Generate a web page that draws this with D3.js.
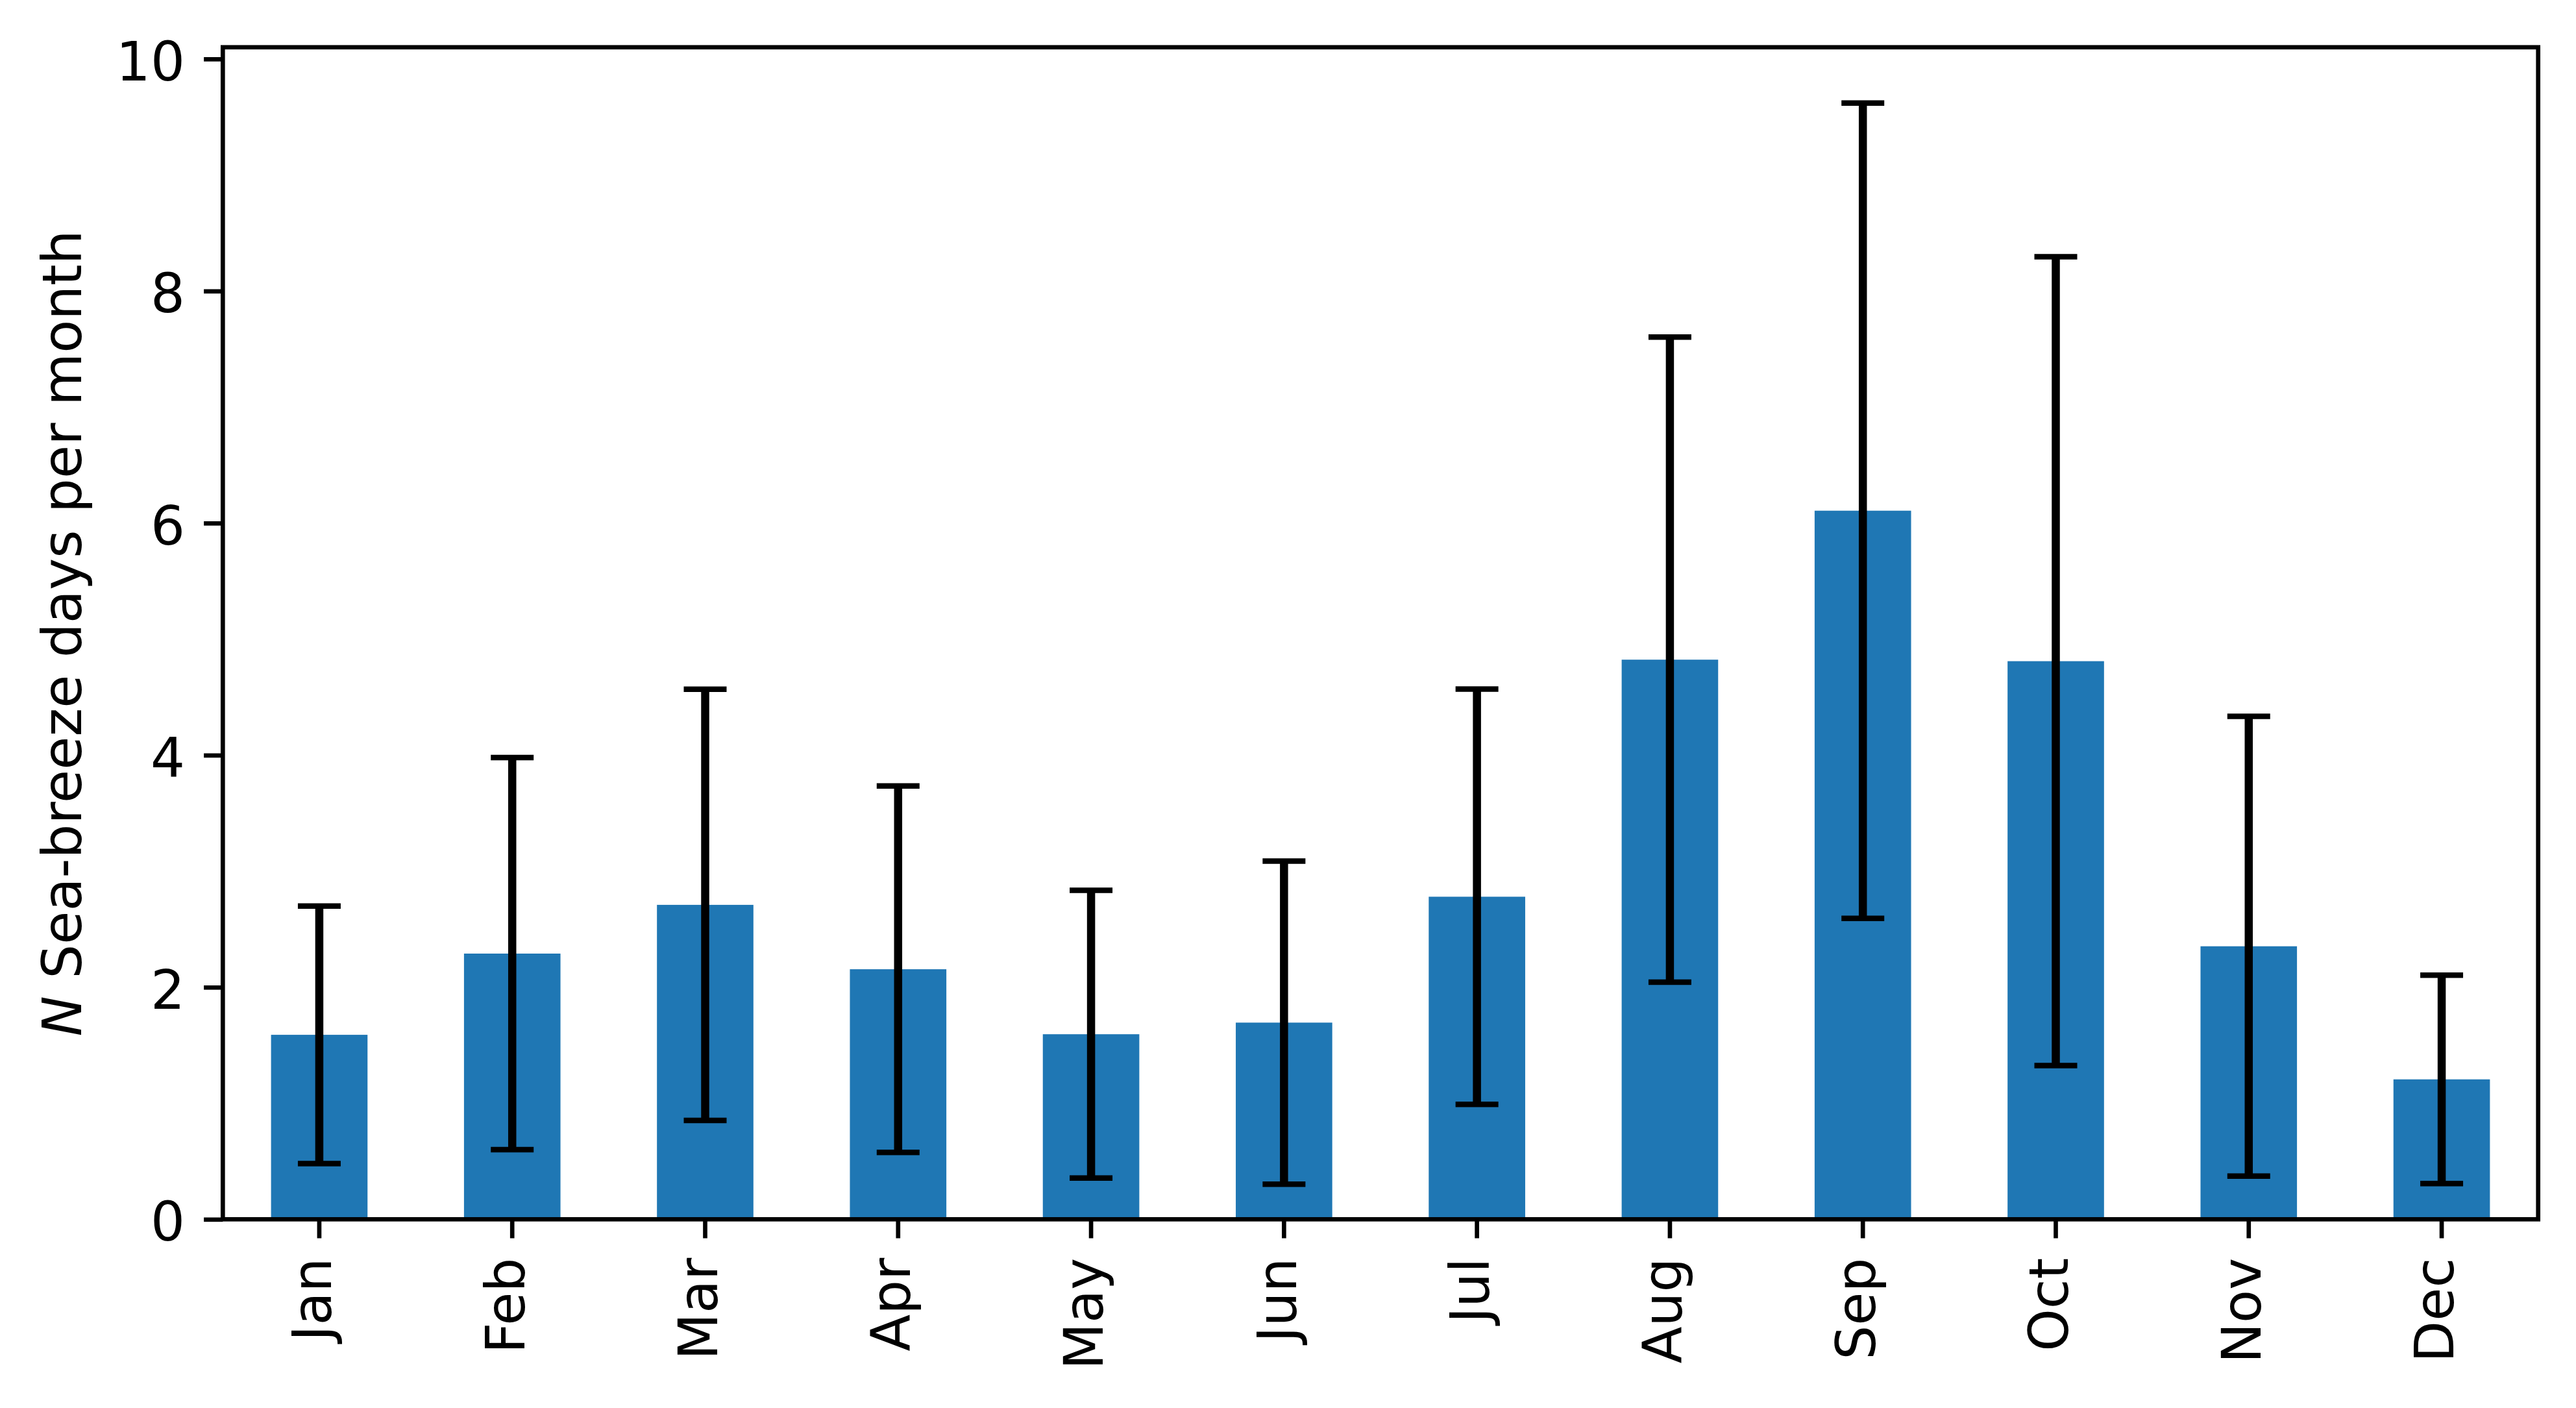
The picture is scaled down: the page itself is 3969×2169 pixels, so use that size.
<!DOCTYPE html>
<html><head><meta charset="utf-8">
<script src="https://cdn.jsdelivr.net/npm/d3@7"></script>
<style>
body{margin:0;background:#fff;}
text{font-family:"DejaVu Sans",sans-serif;}
</style>
</head><body>
<svg id="c" width="3969" height="2169"></svg>
<script>
// ---- data ----
const months = ["Jan","Feb","Mar","Apr","May","Jun","Jul","Aug","Sep","Oct","Nov","Dec"];
const meanDays = [1.59, 2.29, 2.71, 2.155, 1.595, 1.695, 2.78, 4.823, 6.107, 4.81, 2.353, 1.206];
const stdDays  = [1.11, 1.69, 1.858, 1.579, 1.24, 1.392, 1.79, 2.78, 3.513, 3.485, 1.981, 0.898];
const yTickValues = [0, 2, 4, 6, 8, 10];
const yLabelItalic = "N";
const yLabelRest = " Sea-breeze days per month";

(function () {
// ---- layout ----
const W = 3969, H = 2169;
const pL = 343.3, pR = 3910.7, pT = 72.8, pB = 1878.3;
const fs = 83.33;           // 10pt @ 600dpi
const lw = 6.67;            // 0.8pt
const tickLen = 29.2, tickPad = 29.2;
const barColor = "#1f77b4";

const svg = d3.select("#c");
svg.append("rect").attr("width", W).attr("height", H).attr("fill", "#fff");

const x = d3.scaleBand().domain(months).range([pL, pR]).paddingInner(0.5).paddingOuter(0.25);
const yMax = d3.max(meanDays.map((m, i) => m + stdDays[i]));
const y = d3.scaleLinear().domain([0, yMax * 1.05]).range([pB, pT]);

// bars
svg.append("g").selectAll("rect").data(months).join("rect")
  .attr("x", d => x(d))
  .attr("width", x.bandwidth())
  .attr("y", (d, i) => y(meanDays[i]))
  .attr("height", (d, i) => y(0) - y(meanDays[i]))
  .attr("fill", barColor);

// error bars
const eg = svg.append("g").attr("stroke", "#000");
const cx = d => x(d) + x.bandwidth() / 2;
eg.selectAll("line.v").data(months).join("line").attr("class", "v")
  .attr("x1", cx).attr("x2", cx)
  .attr("y1", (d, i) => y(meanDays[i] + stdDays[i]))
  .attr("y2", (d, i) => y(meanDays[i] - stdDays[i]))
  .attr("stroke-width", 12.5);
const capHalf = 33;
[1, -1].forEach(sgn => {
  const cls = sgn > 0 ? "capu" : "capd";
  eg.selectAll("line." + cls).data(months).join("line")
    .attr("class", cls)
    .attr("x1", d => cx(d) - capHalf).attr("x2", d => cx(d) + capHalf)
    .attr("y1", (d, i) => y(meanDays[i] + sgn * stdDays[i]))
    .attr("y2", (d, i) => y(meanDays[i] + sgn * stdDays[i]))
    .attr("stroke-width", 8.5);
});

// x axis
const xAxis = svg.append("g").attr("transform", `translate(0,${pB})`)
  .call(d3.axisBottom(x).tickSize(tickLen).tickPadding(tickPad));
xAxis.select(".domain").remove();
xAxis.selectAll(".tick line").attr("stroke", "#000").attr("stroke-width", lw);
xAxis.selectAll(".tick text")
  .attr("x", 0).attr("y", 0).attr("dy", "0.22em")
  .attr("transform", `translate(0,${tickLen + tickPad + 1}) rotate(-90)`)
  .attr("text-anchor", "end")
  .attr("font-size", fs).attr("font-family", "DejaVu Sans").attr("fill", "#000");

// y axis
const yAxis = svg.append("g").attr("transform", `translate(${pL},0)`)
  .call(d3.axisLeft(y).tickValues(yTickValues).tickFormat(d3.format("d")).tickSize(tickLen).tickPadding(tickPad));
yAxis.select(".domain").remove();
yAxis.selectAll(".tick line").attr("stroke", "#000").attr("stroke-width", lw);
yAxis.selectAll(".tick text")
  .attr("dy", "0.39em")
  .attr("font-size", fs).attr("font-family", "DejaVu Sans").attr("fill", "#000");

// frame
svg.append("rect")
  .attr("x", pL).attr("y", pT)
  .attr("width", pR - pL).attr("height", pB - pT)
  .attr("fill", "none").attr("stroke", "#000").attr("stroke-width", lw)
  .attr("stroke-linejoin", "miter");

// y label
const yl = svg.append("text")
  .attr("transform", `translate(125,${(pT + pB) / 2}) rotate(-90)`)
  .attr("text-anchor", "middle")
  .attr("font-size", fs).attr("font-family", "DejaVu Sans").attr("fill", "#000");
yl.append("tspan").attr("font-style", "italic").text(yLabelItalic);
yl.append("tspan").text(yLabelRest);
})();
</script>
</body></html>
